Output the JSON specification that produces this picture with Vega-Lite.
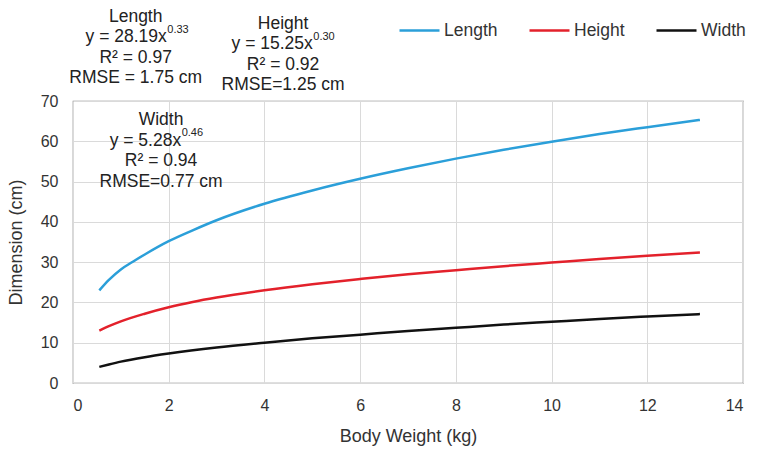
{
  "$schema": "https://vega.github.io/schema/vega-lite/v6.json",
  "autosize": "none",
  "width": 670,
  "height": 282,
  "padding": {"left": 73, "top": 101, "right": 22, "bottom": 67},
  "background": "white",
  "config": {
    "font": "Liberation Sans",
    "view": {"stroke": "#7f7f7f", "strokeWidth": 1.2},
    "axis": {
      "domain": false,
      "ticks": false,
      "grid": true,
      "gridColor": "#dadada",
      "labelFont": "Liberation Sans",
      "labelFontSize": 16,
      "labelColor": "#333333",
      "titleFont": "Liberation Sans",
      "titleFontSize": 18,
      "titleFontWeight": "normal",
      "titleColor": "#333333"
    },
    "text": {"font": "Liberation Sans", "fontSize": 17.5, "color": "#222222"}
  },
  "layer": [
    {
      "data": {
        "values": [
          {"weight": 0.55, "dim": 23.0, "series": "Length"},
          {"weight": 0.75, "dim": 25.6, "series": "Length"},
          {"weight": 1.0, "dim": 28.2, "series": "Length"},
          {"weight": 1.25, "dim": 30.1, "series": "Length"},
          {"weight": 1.5, "dim": 31.9, "series": "Length"},
          {"weight": 2.0, "dim": 35.2, "series": "Length"},
          {"weight": 2.5, "dim": 37.9, "series": "Length"},
          {"weight": 3.0, "dim": 40.4, "series": "Length"},
          {"weight": 4.0, "dim": 44.5, "series": "Length"},
          {"weight": 5.0, "dim": 47.8, "series": "Length"},
          {"weight": 6.0, "dim": 50.7, "series": "Length"},
          {"weight": 7.0, "dim": 53.3, "series": "Length"},
          {"weight": 8.0, "dim": 55.7, "series": "Length"},
          {"weight": 9.0, "dim": 57.9, "series": "Length"},
          {"weight": 10.0, "dim": 59.9, "series": "Length"},
          {"weight": 11.0, "dim": 61.8, "series": "Length"},
          {"weight": 12.0, "dim": 63.5, "series": "Length"},
          {"weight": 13.1, "dim": 65.3, "series": "Length"},
          {"weight": 0.55, "dim": 13.0, "series": "Height"},
          {"weight": 0.75, "dim": 14.1, "series": "Height"},
          {"weight": 1.0, "dim": 15.3, "series": "Height"},
          {"weight": 1.5, "dim": 17.2, "series": "Height"},
          {"weight": 2.0, "dim": 18.8, "series": "Height"},
          {"weight": 2.5, "dim": 20.1, "series": "Height"},
          {"weight": 3.0, "dim": 21.2, "series": "Height"},
          {"weight": 4.0, "dim": 23.0, "series": "Height"},
          {"weight": 5.0, "dim": 24.5, "series": "Height"},
          {"weight": 6.0, "dim": 25.8, "series": "Height"},
          {"weight": 7.0, "dim": 27.0, "series": "Height"},
          {"weight": 8.0, "dim": 28.0, "series": "Height"},
          {"weight": 9.0, "dim": 29.0, "series": "Height"},
          {"weight": 10.0, "dim": 29.9, "series": "Height"},
          {"weight": 11.0, "dim": 30.8, "series": "Height"},
          {"weight": 12.0, "dim": 31.6, "series": "Height"},
          {"weight": 13.1, "dim": 32.4, "series": "Height"},
          {"weight": 0.55, "dim": 4.0, "series": "Width"},
          {"weight": 0.75, "dim": 4.6, "series": "Width"},
          {"weight": 1.0, "dim": 5.3, "series": "Width"},
          {"weight": 1.5, "dim": 6.4, "series": "Width"},
          {"weight": 2.0, "dim": 7.3, "series": "Width"},
          {"weight": 3.0, "dim": 8.8, "series": "Width"},
          {"weight": 4.0, "dim": 10.0, "series": "Width"},
          {"weight": 5.0, "dim": 11.1, "series": "Width"},
          {"weight": 6.0, "dim": 12.0, "series": "Width"},
          {"weight": 7.0, "dim": 12.9, "series": "Width"},
          {"weight": 8.0, "dim": 13.7, "series": "Width"},
          {"weight": 9.0, "dim": 14.5, "series": "Width"},
          {"weight": 10.0, "dim": 15.2, "series": "Width"},
          {"weight": 11.0, "dim": 15.9, "series": "Width"},
          {"weight": 12.0, "dim": 16.5, "series": "Width"},
          {"weight": 13.1, "dim": 17.1, "series": "Width"}
        ]
      },
      "mark": {"type": "line", "strokeWidth": 2.5, "interpolate": "monotone"},
      "encoding": {
        "x": {
          "field": "weight",
          "type": "quantitative",
          "scale": {"domain": [0, 14], "nice": false},
          "axis": {"values": [0, 2, 4, 6, 8, 10, 12, 14], "labelPadding": 14, "titlePadding": 14},
          "title": "Body Weight (kg)"
        },
        "y": {
          "field": "dim",
          "type": "quantitative",
          "scale": {"domain": [0, 70], "nice": false},
          "axis": {"values": [0, 10, 20, 30, 40, 50, 60, 70], "labelPadding": 15, "titlePadding": 15},
          "title": "Dimension (cm)"
        },
        "color": {
          "field": "series",
          "type": "nominal",
          "scale": {"domain": ["Length", "Height", "Width"], "range": ["#2b9fd9", "#e3212b", "#111111"]},
          "sort": ["Length", "Height", "Width"],
          "legend": {
            "title": null,
            "orient": "none",
            "direction": "horizontal",
            "legendX": 325,
            "legendY": -92,
            "symbolType": "stroke",
            "symbolSize": 1600,
            "symbolStrokeWidth": 2.5,
            "labelFont": "Liberation Sans",
            "labelFontSize": 17.5,
            "labelColor": "#333333",
            "labelOffset": 3,
            "columnPadding": 26
          }
        }
      }
    },
    {
      "data": {"values": [{}]},
      "mark": {"type": "text", "align": "center", "baseline": "top", "text": "Length"},
      "encoding": {"x": {"datum": 1.31, "type": "quantitative"}, "y": {"datum": 93.1, "type": "quantitative"}}
    },
    {
      "data": {"values": [{}]},
      "mark": {"type": "text", "align": "center", "baseline": "top", "lineHeight": 20.5, "dy": 41, "text": ["R² = 0.97", "RMSE = 1.75 cm"]},
      "encoding": {"x": {"datum": 1.31, "type": "quantitative"}, "y": {"datum": 93.1, "type": "quantitative"}}
    },
    {
      "data": {"values": [{}]},
      "mark": {"type": "text", "align": "right", "baseline": "top", "dy": 20.5, "text": "y = 28.19x"},
      "encoding": {"x": {"datum": 1.96, "type": "quantitative"}, "y": {"datum": 93.1, "type": "quantitative"}}
    },
    {
      "data": {"values": [{}]},
      "mark": {"type": "text", "align": "left", "baseline": "top", "dy": 16, "dx": 0.5, "fontSize": 11, "text": "0.33"},
      "encoding": {"x": {"datum": 1.96, "type": "quantitative"}, "y": {"datum": 93.1, "type": "quantitative"}}
    },
    {
      "data": {"values": [{}]},
      "mark": {"type": "text", "align": "center", "baseline": "top", "text": "Height"},
      "encoding": {"x": {"datum": 4.39, "type": "quantitative"}, "y": {"datum": 91.35, "type": "quantitative"}}
    },
    {
      "data": {"values": [{}]},
      "mark": {"type": "text", "align": "center", "baseline": "top", "lineHeight": 20.5, "dy": 41, "text": ["R² = 0.92", "RMSE=1.25 cm"]},
      "encoding": {"x": {"datum": 4.39, "type": "quantitative"}, "y": {"datum": 91.35, "type": "quantitative"}}
    },
    {
      "data": {"values": [{}]},
      "mark": {"type": "text", "align": "right", "baseline": "top", "dy": 20.5, "text": "y = 15.25x"},
      "encoding": {"x": {"datum": 5.01, "type": "quantitative"}, "y": {"datum": 91.35, "type": "quantitative"}}
    },
    {
      "data": {"values": [{}]},
      "mark": {"type": "text", "align": "left", "baseline": "top", "dy": 16, "dx": 0.5, "fontSize": 11, "text": "0.30"},
      "encoding": {"x": {"datum": 5.01, "type": "quantitative"}, "y": {"datum": 91.35, "type": "quantitative"}}
    },
    {
      "data": {"values": [{}]},
      "mark": {"type": "text", "align": "center", "baseline": "top", "text": "Width"},
      "encoding": {"x": {"datum": 1.84, "type": "quantitative"}, "y": {"datum": 67.5, "type": "quantitative"}}
    },
    {
      "data": {"values": [{}]},
      "mark": {"type": "text", "align": "center", "baseline": "top", "lineHeight": 20.5, "dy": 41, "text": ["R² = 0.94", "RMSE=0.77 cm"]},
      "encoding": {"x": {"datum": 1.84, "type": "quantitative"}, "y": {"datum": 67.5, "type": "quantitative"}}
    },
    {
      "data": {"values": [{}]},
      "mark": {"type": "text", "align": "right", "baseline": "top", "dy": 20.5, "text": "y = 5.28x"},
      "encoding": {"x": {"datum": 2.26, "type": "quantitative"}, "y": {"datum": 67.5, "type": "quantitative"}}
    },
    {
      "data": {"values": [{}]},
      "mark": {"type": "text", "align": "left", "baseline": "top", "dy": 16, "dx": 0.5, "fontSize": 11, "text": "0.46"},
      "encoding": {"x": {"datum": 2.26, "type": "quantitative"}, "y": {"datum": 67.5, "type": "quantitative"}}
    }
  ]
}
